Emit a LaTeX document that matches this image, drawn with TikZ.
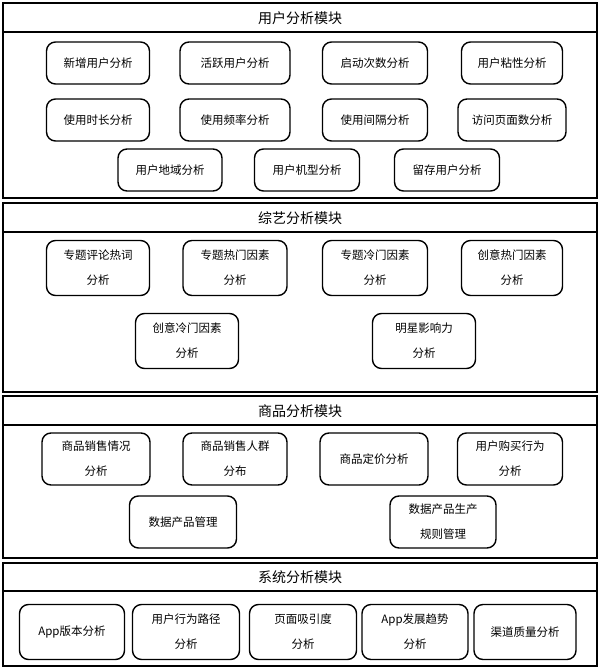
\documentclass[tikz,border=0pt]{standalone}
\usepackage{fontspec}
\setmainfont{Noto Sans CJK SC}
\begin{document}
\begin{tikzpicture}[x=1pt,y=-1pt,
 bx/.style={draw,line width=1.4pt,rounded corners=9pt,align=center,font=\fontsize{11.5}{25}\selectfont,inner sep=0pt},
 frame/.style={draw,line width=1.2pt},
 ttl/.style={font=\fontsize{14}{16}\selectfont}]
\useasboundingbox (0,0) rectangle (600,669);
% module frames
\draw[frame] (3,3) rectangle (597,32); \draw[frame] (3,32) rectangle (597,198);
\draw[frame] (3,203) rectangle (597,232); \draw[frame] (3,232) rectangle (597,392);
\draw[frame] (3,396) rectangle (597,425); \draw[frame] (3,425) rectangle (597,558);
\draw[frame] (3,563) rectangle (597,591); \draw[frame] (3,591) rectangle (597,666);
\node[ttl] (t1) at (300,18) {用户分析模块};
\node[ttl] (t2) at (300,218) {综艺分析模块};
\node[ttl] (t3) at (300,411) {商品分析模块};
\node[ttl] (t4) at (300,577) {系统分析模块};
% module 1
\begin{scope}[every node/.style={bx,minimum height=42}]
\node[minimum width=103] (a1) at (98,63) {新增用户分析};
\node[minimum width=110] (a2) at (235,63) {活跃用户分析};
\node[minimum width=105] (a3) at (375,63) {启动次数分析};
\node[minimum width=101] (a4) at (512,63) {用户粘性分析};
\node[minimum width=103] (b1) at (98,120) {使用时长分析};
\node[minimum width=110] (b2) at (235,120) {使用频率分析};
\node[minimum width=105] (b3) at (375,120) {使用间隔分析};
\node[minimum width=108] (b4) at (512,120) {访问页面数分析};
\node[minimum width=104] (c1) at (170,170) {用户地域分析};
\node[minimum width=105] (c2) at (307,170) {用户机型分析};
\node[minimum width=105] (c3) at (447,170) {留存用户分析};
\end{scope}
% module 2
\begin{scope}[every node/.style={bx,minimum height=55}]
\node[minimum width=103] (d1) at (98,268) {专题评论热词\\分析};
\node[minimum width=104] (d2) at (235,268) {专题热门因素\\分析};
\node[minimum width=105] (d3) at (375,268) {专题冷门因素\\分析};
\node[minimum width=101] (d4) at (512,268) {创意热门因素\\分析};
\node[minimum width=103] (e1) at (187,341) {创意冷门因素\\分析};
\node[minimum width=103] (e2) at (424,341) {明星影响力\\分析};
\end{scope}
% module 3
\begin{scope}[every node/.style={bx,minimum height=52}]
\node[minimum width=108] (f1) at (96,459) {商品销售情况\\分析};
\node[minimum width=104] (f2) at (235,459) {商品销售人群\\分布};
\node[minimum width=108] (f3) at (374,459) {商品定价分析};
\node[minimum width=105] (f4) at (510,459) {用户购买行为\\分析};
\node[minimum width=107] (g1) at (183,522) {数据产品管理};
\node[minimum width=106] (g2) at (443,522) {数据产品生产\\规则管理};
\end{scope}
% module 4
\begin{scope}[every node/.style={bx,minimum height=55}]
\node[minimum width=105] (h1) at (72,632) {App版本分析};
\node[minimum width=107] (h2) at (186,632) {用户行为路径\\分析};
\node[minimum width=107] (h3) at (303,632) {页面吸引度\\分析};
\node[minimum width=106] (h4) at (415,632) {App发展趋势\\分析};
\node[minimum width=102] (h5) at (525,632) {渠道质量分析};
\end{scope}
\end{tikzpicture}
\end{document}
